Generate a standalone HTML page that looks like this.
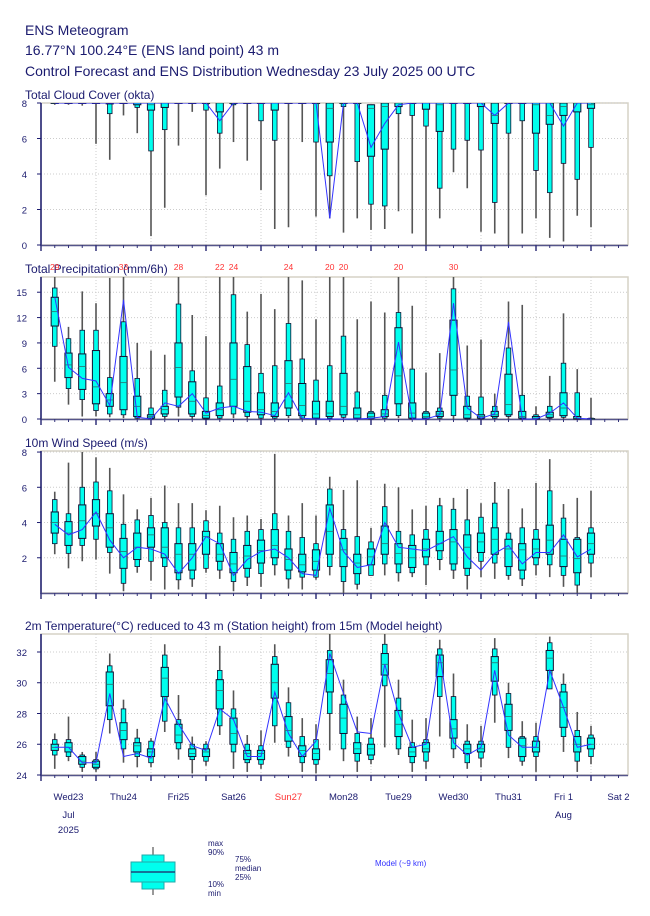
<!DOCTYPE html>
<html><head><meta charset="utf-8"><style>
body{margin:0;background:#fff;width:650px;height:916px;overflow:hidden}
svg{display:block;font-family:"Liberation Sans",sans-serif}
</style></head><body>
<svg id="chart" width="650" height="916" viewBox="0 0 650 916">
<g fill="#1a1a6e" font-size="14">
<text x="25" y="35">ENS Meteogram</text>
<text x="25" y="55">16.77°N 100.24°E (ENS land point) 43 m</text>
<text x="25" y="76">Control Forecast and ENS Distribution Wednesday 23 July 2025 00 UTC</text>
</g>
<g id="panels"></g>
<g font-size="8" fill="#1a1a6e">
<line x1="153" y1="847" x2="153" y2="895" stroke="#777" stroke-width="1.5"/>
<rect x="142" y="855" width="22" height="34" fill="#00ffee" stroke="#2aa"/>
<rect x="131" y="862" width="44" height="20" fill="#00ffee" stroke="#2aa"/>
<line x1="131" y1="872" x2="175" y2="872" stroke="#226" stroke-width="1.2"/>
<text x="208" y="846">max</text><text x="208" y="855">90%</text>
<text x="235" y="862">75%</text><text x="235" y="871">median</text><text x="235" y="880">25%</text>
<text x="208" y="887">10%</text><text x="208" y="896">min</text>
<text x="375" y="866" fill="#3333ff">Model (~9 km)</text>
</g>
</svg>
<script>
const steps = [1,2,3,4,5,6,7,8,9,10,11,12,13,14,15,16,17,18,19,20,21,22,23,24,25,26,27,28,29,30,31,32,33,34,35,36,37,38,39,40];
const dayLabels = ["Wed23","Thu24","Fri25","Sat26","Sun27","Mon28","Tue29","Wed30","Thu31","Fri 1","Sat 2"];
// cloud [min,p10,p25,med,p75,p90,max]
const cloudMin=[7.9,7.9,7.85,5.7,4.8,7.3,6.3,0.5,2.1,5.6,7.5,2.8,4.3,5.8,4.75,3.1,0.9,1.0,5.8,1.6,1.5,0.7,1.5,0.85,0.9,1.9,0.65,0,1.5,4.1,3.2,0.75,0.65,0,0.65,1.5,0.4,0.2,1.65,1.0];
const cloudP10=[8,8,8,8,7.4,8,7.75,5.3,6.5,8,8,7.6,6.3,7.9,8,7.0,5.9,8,8,5.8,3.9,7.8,4.7,2.3,2.2,7.4,7.3,6.7,3.2,5.4,5.9,5.35,2.4,6.3,7.0,4.2,2.95,4.6,3.7,5.5];
const cloudP25=[8,8,8,8,7.95,8,7.9,7.6,7.75,8,8,8,7.5,8,8,8,7.6,8,8,8,5.8,8,8,5.0,5.4,7.8,8,7.65,6.4,8,8,7.8,6.85,8,8,6.3,6.8,7.3,7.5,7.7];
const cloudMed=[8,8,8,8,8,8,8,7.9,8,8,8,8,8,8,8,8,8,8,8,8,7.7,8,8,7.7,7.8,8,8,8,7.9,8,8,8,7.3,8,8,7.9,7.3,7.8,8,7.9];
const cloudP75=[8,8,8,8,8,8,8,8,8,8,8,8,8,8,8,8,8,8,8,8,8,8,8,7.9,8,8,8,8,8,8,8,8,8,8,8,8,8,8,8,8];
const cloudCtrl=[8,8,8,8,8,8,8,8,8,8,8,8,7.0,8,8,8,8,8,8,8,1.5,8,8,5.5,6.85,7.9,8,8,8,8,8,8,7.3,8,8,8,8,6.7,8,8];
// precipitation mm/6h
const precMin=[4.4,1.7,0.3,0.3,0.2,0.1,0,0,0,0.3,0,0,0,0.1,0,0,0,0.1,0,0,0,0,0,0,0,0.1,0,0,0,0,0,0,0,0,0,0,0,0,0,0];
const precP10=[8.6,3.6,2.3,1.0,0.6,0.5,0.1,0,0.3,1.4,0.3,0,0.1,0.6,0.3,0.1,0.1,0.4,0.1,0,0.1,0.2,0,0,0.1,0.4,0,0,0.1,0.4,0,0,0.1,0.3,0,0,0.1,0.2,0,0];
const precP25=[11.0,4.9,3.5,1.8,1.5,1.1,0.3,0.1,0.6,2.6,0.6,0.1,0.4,1.5,0.8,0.5,0.3,1.3,0.4,0.1,0.3,0.5,0.1,0.1,0.3,1.8,0.1,0.1,0.3,2.8,0.1,0.1,0.3,0.5,0.1,0,0.2,0.4,0,0];
const precMed=[12.7,6.4,6.2,3.8,2.25,4.3,1.5,0.3,1.1,6.1,2.1,0.4,1.1,4.7,2.1,1.1,0.9,4.2,1.6,0.6,0.7,1.5,0.5,0.3,0.6,5.1,0.7,0.3,0.6,5.8,0.5,0.3,0.5,1.7,0.3,0.1,0.5,1.3,0.1,0];
const precP75=[14.4,7.8,7.7,8.1,3.0,7.4,2.7,0.5,1.5,9.0,4.4,0.9,1.9,9.0,6.2,3.1,1.9,6.9,4.2,2.1,2.1,5.4,1.3,0.7,1.1,10.8,1.9,0.7,0.9,11.7,1.5,0.5,0.9,5.3,0.9,0.3,0.8,3.1,0.3,0.05];
const precP90=[15.5,9.5,10.5,10.5,4.9,11.5,4.8,1.3,3.4,13.6,5.7,2.5,3.9,14.7,8.8,5.4,6.3,11.3,7.1,4.6,6.3,9.8,3.2,0.9,2.8,12.6,5.9,0.9,1.3,15.4,2.7,2.6,1.5,8.4,2.8,0.5,1.5,6.6,3.1,0.1];
const precMax=[29,10.9,15.1,13.7,16.7,33,9.0,8.1,7.6,28,12.3,9.8,22,24,12.7,14.8,13.0,24,16.4,11.8,20,20,11.8,13.9,12.6,20,13.4,5.5,7.8,30,8.7,9.4,3.0,13.9,13.5,1.5,5.1,12.5,5.9,2.5];
const precCtrl=[14.4,6.1,4.8,4.5,1.6,14.1,0.2,0,1.9,1.5,3.0,0.7,1.3,1.5,0.9,0.8,0.4,3.1,0.1,0,0,0,0,0.1,0.3,9.1,0,0,0.5,13.7,1.3,0.1,0.6,11.5,0,0,0.7,1.9,0.1,0];
// wind m/s
const windMin=[2.2,1.4,1.8,1.9,1.1,0.1,1.15,0.7,0.2,0.2,0.35,1.15,0.8,0.1,0.4,0.35,1.0,0.25,0.2,0.75,1.0,0,0.2,1.0,1.0,0.65,0.9,0.45,1.3,0.8,0.2,0.9,0.8,0.75,0.4,1.0,0.9,0.35,0,0.9];
const windP10=[2.8,2.25,2.7,3.05,2.3,0.55,1.5,1.8,1.5,0.75,0.8,1.4,1.3,0.65,0.9,1.1,1.6,0.8,0.9,0.9,1.5,0.65,0.5,1.0,1.65,1.15,1.15,1.6,1.9,1.3,1.0,1.8,1.7,1.0,0.8,1.6,1.6,1.0,0.45,1.7];
const windP25=[3.4,2.7,3.1,3.8,2.6,1.4,1.9,2.6,2.0,1.15,1.3,2.2,1.8,1.15,1.4,1.7,2.0,1.3,1.2,1.3,2.2,1.5,1.1,1.6,2.2,1.65,1.45,2.05,2.4,1.65,1.4,2.3,2.2,1.5,1.3,2.0,2.2,1.5,1.15,2.2];
const windMed=[4.0,3.4,4.1,4.5,3.7,2.35,2.6,3.3,2.6,2.2,2.2,3.2,2.2,1.65,2.1,2.4,2.7,1.9,1.6,1.8,3.5,2.45,1.7,2.05,2.8,2.25,2.0,2.5,2.8,2.9,2.6,2.9,3.05,2.5,2.45,2.5,3.0,2.1,1.95,2.8];
const windP75=[4.6,4.05,5.0,5.3,4.5,3.1,3.4,3.7,3.7,2.8,2.8,3.5,2.8,2.3,2.7,3.0,3.6,2.5,2.2,2.45,5.0,3.1,2.2,2.5,3.8,2.8,2.7,3.05,3.5,3.6,3.3,3.4,3.7,3.05,2.8,3.05,3.85,3.05,3.05,3.4];
const windP90=[5.3,4.5,6.0,6.3,5.8,3.9,4.15,4.4,4.0,3.7,3.7,4.1,3.4,3.05,3.5,3.6,4.5,3.5,3.15,2.8,5.9,3.6,3.2,2.9,4.9,3.5,3.3,3.6,4.95,4.75,4.15,4.3,5.1,3.4,3.7,3.6,5.8,4.25,3.15,3.7];
const windMax=[5.75,7.4,8.0,7.7,7.1,5.6,4.75,5.4,6.1,5.1,5.1,4.7,4.95,4.3,4.4,4.2,7.9,4.4,5.1,4.4,6.6,5.85,6.4,3.7,6.2,6.0,4.75,4.95,5.4,5.4,5.9,5.1,6.3,5.9,4.8,6.25,7.6,5.05,5.4,5.8];
const windCtrl=[3.9,3.3,3.6,4.6,3.0,2.0,2.6,2.5,2.2,1.1,2.0,3.2,2.8,1.0,1.9,2.35,2.5,2.0,1.1,1.0,4.8,2.35,1.45,1.6,4.0,2.6,2.5,2.4,2.8,3.2,2.05,1.3,2.25,2.7,1.65,2.3,2.3,3.3,2.05,2.5];
// temperature °C
const tMin=[24.4,24.9,24.2,24.2,26.7,24.8,24.5,24.5,26.8,25.0,24.1,24.6,26.6,24.4,24.2,24.4,26.1,25.2,24.2,24.1,25.6,24.9,24.2,24.7,25.8,25.3,24.2,24.4,26.5,25.1,24.4,24.5,27.4,25.1,24.6,24.2,29.6,25.5,24.2,24.7];
const tP10=[25.3,25.2,24.5,24.4,27.6,25.7,25.2,24.8,27.5,25.7,25.0,24.9,27.2,25.5,24.8,24.7,27.2,25.8,24.8,24.7,28.0,25.7,24.9,25.0,29.8,25.7,24.8,24.9,29.1,25.7,24.8,25.1,29.2,25.8,24.9,25.2,29.6,26.5,24.9,25.2];
const tP25=[25.6,25.5,24.7,24.5,28.5,26.3,25.5,25.2,29.1,26.1,25.2,25.2,28.3,26.0,25.0,25.0,29.0,26.2,25.2,25.0,29.4,26.7,25.4,25.3,30.5,26.5,25.2,25.5,30.4,26.4,25.4,25.5,30.1,26.9,25.2,25.5,30.8,27.1,25.5,25.7];
const tMed=[25.8,25.8,24.9,24.7,29.9,26.9,25.9,25.5,30.3,26.6,25.4,25.5,29.5,26.7,25.4,25.4,30.0,26.9,25.6,25.4,30.6,27.7,25.7,25.7,31.2,27.3,25.5,25.7,31.3,27.0,25.7,25.7,31.3,27.8,25.9,25.8,31.6,28.4,26.0,26.0];
const tP75=[26.0,26.1,25.2,24.9,30.7,27.4,26.1,25.7,31.0,27.3,25.7,25.7,30.2,27.7,25.6,25.6,31.2,27.8,25.9,25.7,31.5,28.6,26.1,26.0,31.9,28.2,25.8,26.1,31.8,27.6,26.0,26.0,31.7,28.6,26.4,26.2,32.1,29.4,26.5,26.4];
const tP90=[26.3,26.3,25.3,25.0,31.1,28.3,26.4,26.2,31.8,27.6,26.0,26.0,30.8,28.3,26.0,25.9,31.7,28.7,26.5,26.3,32.1,29.2,26.7,26.4,32.5,29.0,26.1,26.3,32.2,29.1,26.2,26.2,32.2,29.3,26.5,26.5,32.6,29.9,26.9,26.6];
const tMax=[26.7,27.8,25.5,25.5,31.9,28.9,27.0,26.4,32.5,29.2,26.5,26.2,32.4,29.5,26.6,26.9,32.5,29.7,27.7,27.3,33.2,30.2,27.8,27.7,33.2,30.2,27.6,27.7,32.8,30.6,27.3,27.2,32.9,30.0,27.5,27.4,33.0,30.6,28.1,27.2];
const tCtrl=[25.8,25.8,24.8,24.8,29.3,25.2,25.4,25.1,29.0,27.3,25.9,25.6,28.3,27.6,25.2,25.2,29.4,26.7,25.2,26.2,31.9,29.3,26.8,26.7,31.2,28.0,25.8,26.0,31.8,26.1,25.3,25.8,30.8,26.6,25.8,25.8,30.8,28.4,25.8,26.0];

const NS='http://www.w3.org/2000/svg';
const root=document.getElementById('panels');
const X0=41, X1=628, PXH=55/24;
function xPos(k){return X0+k*6*PXH;}
function el(tag,attrs,parent){const e=document.createElementNS(NS,tag);for(const a in attrs)e.setAttribute(a,attrs[a]);(parent||root).appendChild(e);return e;}

function panel(cfg){
  const g=el('g',{});
  
  
  const y=v=>cfg.bottom-(v-cfg.vmin)/(cfg.vmax-cfg.vmin)*(cfg.bottom-cfg.top);
  const t=el('text',{x:25,y:cfg.top-4,'font-size':12,fill:'#1a1a6e'},g);t.textContent=cfg.title;
  
  
  el('rect',{x:X0,y:cfg.top,width:X1-X0,height:cfg.bottom-cfg.top,fill:'#fff',stroke:'#d6d2c6','stroke-width':1.5},g);
  // grid
  cfg.ticks.forEach(v=>{
    el('line',{x1:X0,x2:X1,y1:y(v),y2:y(v),stroke:'#ccc','stroke-dasharray':'1,2','stroke-width':1},g);
    el('line',{x1:X0-4,x2:X0,y1:y(v),y2:y(v),stroke:'#1a1a6e','stroke-width':1},g);
    const lb=el('text',{x:X0-14,y:y(v)+4,'font-size':9.5,fill:'#1a1a6e','text-anchor':'end'},g);lb.textContent=v;
    
    
  });
  for(let d=1;d<=10;d++){const xx=xPos(d*4);el('line',{x1:xx,x2:xx,y1:cfg.top,y2:cfg.bottom,stroke:'#ccc','stroke-dasharray':'1,2'},g);}
  // axes
  el('line',{x1:X0,x2:X0,y1:cfg.top,y2:cfg.bottom+1,stroke:'#1a1a6e','stroke-width':1.5},g);
  el('line',{x1:X0,x2:X1,y1:cfg.bottom+0.5,y2:cfg.bottom+0.5,stroke:'#55558a','stroke-width':1.5},g);
  for(let k=0;k<=42;k++){const xx=xPos(k);const major=k%4===0;el('line',{x1:xx,x2:xx,y1:cfg.bottom,y2:cfg.bottom+(major?6:3),stroke:'#33337a','stroke-width':major?1.5:1},g);}
  const clipId='c'+cfg.name;
  const cp=el('clipPath',{id:clipId},g);el('rect',{x:X0,y:cfg.top,width:X1-X0,height:cfg.bottom-cfg.top+1},cp);
  const bg=el('g',{'clip-path':'url(#'+clipId+')'},g);
  steps.forEach((k,i)=>{
    const xx=xPos(k);
    const mn=cfg.min[i],p10=cfg.p10[i],p25=cfg.p25[i],md=cfg.med[i],p75=cfg.p75[i],p90=cfg.p90[i],mx=cfg.max[i];
    const w=el('line',{x1:xx,x2:xx,y1:y(mx),y2:y(mn),stroke:'#555','stroke-width':1.6},bg);
    
    
    const o=el('rect',{x:xx-2.3,y:y(p90),width:4.6,height:Math.max(0.5,y(p10)-y(p90)),fill:'#00ffee',stroke:'#113',"stroke-width":0.8},bg);
    
    
    const b=el('rect',{x:xx-3.6,y:y(p75),width:7.2,height:Math.max(0.5,y(p25)-y(p75)),fill:'#00ffee',stroke:'#113',"stroke-width":1},bg);
    
    
    el('line',{x1:xx-3.6,x2:xx+3.6,y1:y(md),y2:y(md),stroke:'#2a6e6e','stroke-width':0.8},bg);
    if(cfg.labelOver && mx>cfg.vmax){
      const lt=el('text',{x:xx,y:cfg.top-7,'font-size':8.5,fill:'#ff3333','text-anchor':'middle'},g);lt.textContent=Math.round(mx);
      
      
    }
  });
  const pts=steps.map((k,i)=>xPos(k).toFixed(1)+','+y(cfg.ctrl[i]).toFixed(1)).join(' ');
  const pl=el('polyline',{points:pts,fill:'none',stroke:'#3333ff','stroke-width':1},bg);
  
  
}

panel({name:'cloud-panel',title:'Total Cloud Cover (okta)',top:103,bottom:245,vmin:0,vmax:8,ticks:[0,2,4,6,8],
  min:cloudMin,p10:cloudP10,p25:cloudP25,med:cloudMed,p75:cloudP75,p90:cloudP75.map((v,i)=>Math.max(v,cloudP75[i])),max:cloudP75,ctrl:cloudCtrl});
panel({name:'precip-panel',title:'Total Precipitation (mm/6h)',top:277,bottom:419,vmin:0,vmax:16.8,ticks:[0,3,6,9,12,15],labelOver:true,
  min:precMin,p10:precP10,p25:precP25,med:precMed,p75:precP75,p90:precP90,max:precMax,ctrl:precCtrl});
panel({name:'wind-panel',title:'10m Wind Speed (m/s)',top:451,bottom:593,vmin:0,vmax:8.06,ticks:[2,4,6,8],
  min:windMin,p10:windP10,p25:windP25,med:windMed,p75:windP75,p90:windP90,max:windMax,ctrl:windCtrl});
panel({name:'temp-panel',title:'2m Temperature(°C) reduced to 43 m (Station height) from 15m (Model height)',top:634,bottom:775,vmin:24,vmax:33.17,ticks:[24,26,28,30,32],
  min:tMin,p10:tP10,p25:tP25,med:tMed,p75:tP75,p90:tP90,max:tMax,ctrl:tCtrl});

// x-axis day labels
dayLabels.forEach((d,i)=>{
  const t=el('text',{x:xPos(i*4+2),y:800,'font-size':9.5,fill:d.startsWith('Sun')?'#ff3333':'#1a1a6e','text-anchor':'middle'});
  t.textContent=d;
  
  
});
[['Jul',xPos(2),818],['2025',xPos(2),833],['Aug',xPos(38),818]].forEach(a=>{
  const t=el('text',{x:a[1],y:a[2],'font-size':9.5,fill:'#1a1a6e','text-anchor':'middle'});
  t.textContent=a[0];
  
  
});
</script>
</body></html>
